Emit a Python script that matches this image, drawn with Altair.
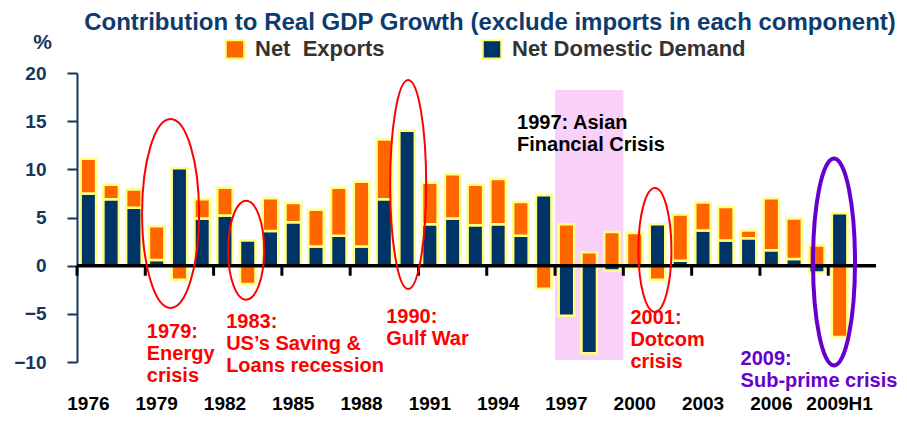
import altair as alt
import pandas as pd

# ---------------- data ----------------
categories = ["1976", "1977", "1978", "1979", "1980", "1981", "1982", "1983", "1984",
              "1985", "1986", "1987", "1988", "1989", "1990", "1991", "1992", "1993",
              "1994", "1995", "1996", "1997", "1998", "1999", "2000", "2001", "2002",
              "2003", "2004", "2005", "2006", "2007", "2008", "2009H1"]
net_exports = [3.6, 1.5, 1.9, 3.5, -1.45, 2.0, 2.9, -1.9, 3.4, 2.0, 3.8, 5.0, 6.7, 6.2,
               0.0, 4.3, 4.6, 4.2, 4.7, 3.5, -2.4, 4.3, 1.4, 3.5, 3.4, -1.45, 4.8, 2.9,
               3.5, 0.8, 5.4, 4.2, 2.1, -7.4]
net_domestic = [7.5, 6.9, 6.0, 0.6, 10.1, 4.9, 5.2, 2.6, 3.6, 4.5, 2.0, 3.1, 2.0, 6.9,
                14.0, 4.3, 4.9, 4.2, 4.3, 3.1, 7.3, -5.2, -9.1, -0.5, -0.2, 4.3, 0.5, 3.65,
                2.6, 2.85, 1.6, 0.7, -0.7, 5.45]
tick_labels = ["1976", "1979", "1982", "1985", "1988", "1991", "1994", "1997", "2000",
               "2003", "2006", "2009H1"]
y_ticks = [-10, -5, 0, 5, 10, 15, 20]
series_names = ["Net\u00a0 Exports", "Net Domestic Demand"]

# annotation texts: category, y value of text top, text
note_cats = ["1979", "1983", "1990", "1997", "2001", "2009H1"]
note_y = [-5.82, -4.79, -4.27, 15.8, -4.44, -8.7]
note_text = ["1979:\nEnergy\ncrisis", "1983:\nUS\u2019s Saving &\nLoans recession",
             "1990:\nGulf War", "1997: Asian\nFinancial Crisis", "2001:\nDotcom\ncrisis",
             "2009:\nSub-prime crisis"]

# highlighted episodes (ellipses): category and y value of centre
ell_cats = ["1979", "1983", "1990", "2001", "2009H1"]
ell_y = [5.42, 1.6, 8.43, 1.63, 0.38]

shade_cat = ["1998"]          # centre of shaded 1997-1999 span
shade_top, shade_bottom = 18.24, -9.79

# ---------------- styling ----------------
ORANGE = "#FF6600"
NAVY = "#003366"
AXNAVY = "#17365D"
TITLE = "#0D3B6E"
RED = "#FF0000"
PURPLE = "#6600CC"
FONT = "Liberation Sans"
W, H = 774, 289
STEP = W / len(categories)

rows = []
for c, ne, nd in zip(categories, net_exports, net_domestic):
    rows.append({"cat": c, "series": series_names[1], "value": nd, "order": 0})
    rows.append({"cat": c, "series": series_names[0], "value": ne, "order": 1})
df = pd.DataFrame(rows)

xscale = alt.Scale(domain=categories, paddingInner=0, paddingOuter=0)
yscale = alt.Scale(domain=[-10, 20], nice=False, zero=False)


def X(**kw):
    return alt.X("cat:N", scale=xscale, title=None, **kw)


shade = alt.Chart(pd.DataFrame({"cat": shade_cat})).mark_bar(
    width=alt.RelativeBandSize(3), color="#F8D0F8"
).encode(x=X(), y=alt.datum(shade_top), y2=alt.datum(shade_bottom))

bars = alt.Chart(df).mark_bar(
    width=alt.RelativeBandSize(0.68), stroke="#FFFF80", strokeWidth=2.5
).encode(
    x=X(axis=alt.Axis(values=tick_labels, labelAngle=0, labelAlign="center",
                      labelBaseline="top", ticks=False, tickSize=0, domain=False,
                      labelPadding=32, labelFontSize=19, labelFontWeight="bold",
                      labelColor="black", labelFont=FONT, grid=False, labelOverlap=False)),
    y=alt.Y("value:Q", stack="zero", scale=yscale, title="%",
            axis=alt.Axis(values=y_ticks, grid=False, domainColor=AXNAVY, domainWidth=2,
                          tickColor=AXNAVY, tickWidth=2, tickSize=10, labelPadding=21,
                          labelFontSize=19, labelFontWeight="bold", labelColor=AXNAVY,
                          labelFont=FONT, titleAngle=0, titleX=-35, titleY=-31,
                          titleAlign="center", titleBaseline="middle", titleFontSize=21,
                          titleFontWeight="bold", titleColor=AXNAVY, titleFont=FONT)),
    color=alt.Color("series:N", scale=alt.Scale(domain=series_names, range=[ORANGE, NAVY]),
                    legend=alt.Legend(orient="none", legendX=147, legendY=-35,
                                      direction="horizontal", title=None,
                                      symbolType="square", symbolSize=340,
                                      symbolStrokeColor="#FFFF66", symbolStrokeWidth=2,
                                      symbolOpacity=1, labelFontSize=22,
                                      labelFontWeight="bold", labelColor="#333333",
                                      labelFont=FONT, columnPadding=93, labelOffset=9,
                                      labelLimit=0)),
    order=alt.Order("order:Q"),
)

zero_line = alt.Chart(alt.Data(values=[{}])).mark_rule(color="black", strokeWidth=3.5).encode(
    x=alt.value(0), x2=alt.value(799), y=alt.datum(0)
)

ticks = alt.Chart(pd.DataFrame({"cat": tick_labels})).mark_rule(
    color="black", strokeWidth=3, xOffset=-STEP / 2
).encode(x=X(), y=alt.datum(0), y2=alt.datum(-1.05))


def ellipse(cat, yv, w, h, dx, color, sw):
    r = w / h
    k = 0.5523
    path = (f"M0,-1 C{k*r:.4f},-1 {r:.4f},{-k} {r:.4f},0 "
            f"C{r:.4f},{k} {k*r:.4f},1 0,1 "
            f"C{-k*r:.4f},1 {-r:.4f},{k} {-r:.4f},0 "
            f"C{-r:.4f},{-k} {-k*r:.4f},-1 0,-1 Z")
    return alt.Chart(pd.DataFrame({"cat": [cat]})).mark_point(
        shape=path, size=h * h, filled=False, stroke=color, strokeWidth=sw,
        opacity=1, xOffset=dx
    ).encode(x=X(), y=alt.datum(yv))


ell_geom = [(57, 189, 13.9, RED, 2), (36, 99, -1.6, RED, 2), (36, 209, 1.1, RED, 2),
            (33, 124, -2.6, RED, 2), (42, 207, -5.6, PURPLE, 4)]
ellipses = [ellipse(c, yv, *g) for c, yv, g in zip(ell_cats, ell_y, ell_geom)]

note_style = [(-9.9, RED), (-21.6, RED), (-20.9, RED), (-49.4, "black"), (-27.1, RED),
              (-99.0, PURPLE)]


def note(cat, yv, txt, dx, color):
    return alt.Chart(pd.DataFrame({"cat": [cat], "t": [txt]})).mark_text(
        align="left", baseline="top", lineBreak="\n", fontSize=20, fontWeight="bold",
        font=FONT, color=color, lineHeight=22, dx=dx
    ).encode(x=X(), y=alt.datum(yv), text="t:N")


notes = [note(c, yv, t, *s) for c, yv, t, s in zip(note_cats, note_y, note_text, note_style)]

chart = alt.layer(shade, bars, zero_line, ticks, *ellipses, *notes).properties(
    width=W, height=H,
    autosize=alt.AutoSizeParams(type="none"),
    padding={"left": 69, "top": 65, "right": 48, "bottom": 52},
    title=alt.TitleParams(
        text="Contribution to Real GDP Growth (exclude imports in each component)",
        fontSize=24, font=FONT, fontWeight="bold", color=TITLE, anchor="middle",
        frame="group", dx=26, offset=-4),
).configure_view(stroke=None)

chart.save("out.html", embed_options={"renderer": "svg", "actions": False})
